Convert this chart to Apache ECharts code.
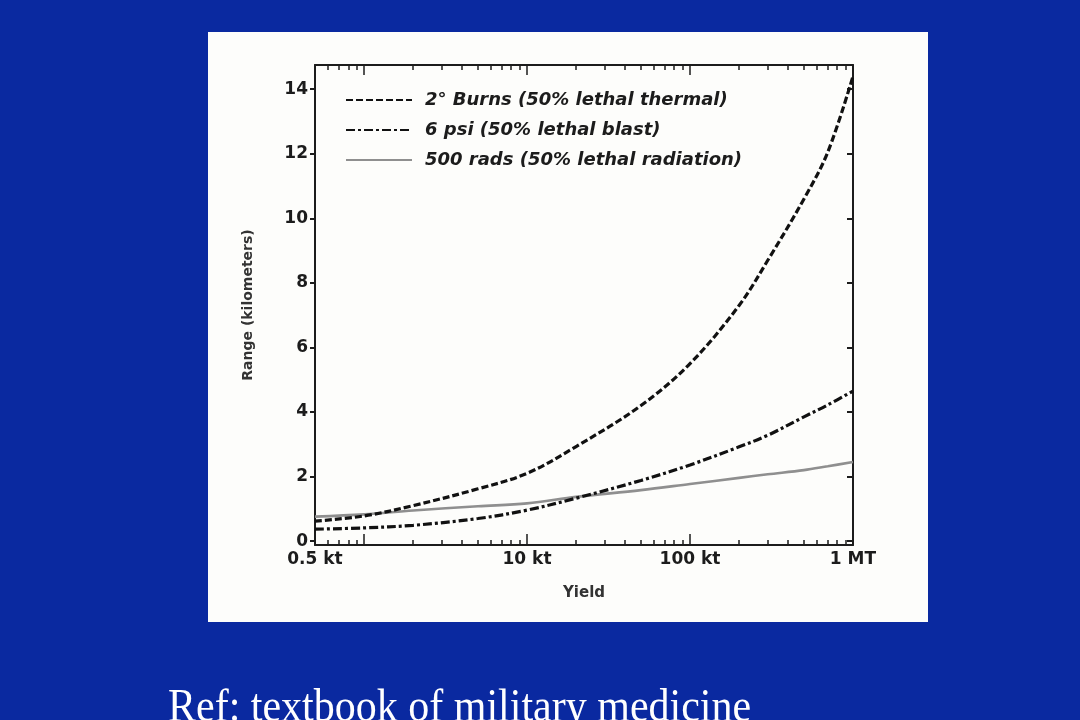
<!DOCTYPE html>
<html>
<head>
<meta charset="utf-8">
<script src="https://cdn.jsdelivr.net/npm/echarts@6/dist/echarts.min.js"></script>
<style>
html,body{margin:0;padding:0;background:#0a29a0;}
#chart{width:1080px;height:720px;}
</style>
</head>
<body>
<div id="chart"></div>
<script>
// Yield in kt (log axis)
const yields = [0.5, 1, 2, 5, 10, 20, 50, 100, 200, 300, 500, 700, 1000];
const burns = [0.62, 0.78, 1.1, 1.62, 2.1, 2.93, 4.2, 5.5, 7.3, 8.7, 10.6, 12.05, 14.4];
const blast = [0.37, 0.41, 0.49, 0.70, 0.96, 1.33, 1.88, 2.36, 2.92, 3.28, 3.85, 4.22, 4.65];
const rads  = [0.76, 0.83, 0.95, 1.08, 1.17, 1.37, 1.58, 1.77, 1.96, 2.07, 2.2, 2.32, 2.45];
const seriesNames = ['2° Burns (50% lethal thermal)', '6 psi (50% lethal blast)', '500 rads (50% lethal radiation)'];
const xLabelValues = [0.5, 10, 100, 1000];
const xLabelText = ['0.5 kt', '10 kt', '100 kt', '1 MT'];
const xMajorTicks = [1, 10, 100];
const xMinorTicks = [0.6, 0.7, 0.8, 0.9, 2, 3, 4, 5, 6, 7, 8, 9, 20, 30, 40, 50, 60, 70, 80, 90, 200, 300, 400, 500, 600, 700, 800, 900];
const yTicks = [0, 2, 4, 6, 8, 10, 12, 14];

const pairs = arr => yields.map((x, i) => [x, arr[i]]);
function xFmt(v) {
  let best = 0, bd = Infinity;
  xLabelValues.forEach((lv, i) => { const d = Math.abs(Math.log10(v) - Math.log10(lv)); if (d < bd) { bd = d; best = i; } });
  return bd < 0.05 ? xLabelText[best] : '';
}
const ink = '#1c1c1c';
const font = '"DejaVu Sans", Verdana, sans-serif';
const grid = {left: 315, right: 227, top: 65, bottom: 175};

const chart = echarts.init(document.getElementById('chart'), null, {renderer: 'canvas'});
const baseX = {type: 'log', logBase: 10, min: 0.5, max: 1000, splitLine: {show: false}, gridIndex: 0};
chart.setOption({
  backgroundColor: '#0a29a0',
  animation: false,
  graphic: [
    {type: 'rect', shape: {x: 208, y: 32, width: 720, height: 590}, style: {fill: '#fdfdfb'}, z: -10},
    {type: 'text', x: 168, y: 685, scaleY: 1.12, style: {text: 'Ref: textbook of military medicine', fill: '#ffffff', font: '42px "Liberation Serif", "Times New Roman", serif', verticalAlign: 'top'}}
  ],
  grid: grid,
  legend: {
    orient: 'vertical', left: 340, top: 86, itemWidth: 66, itemHeight: 14, itemGap: 12,
    data: seriesNames,
    itemStyle: {opacity: 0},
    textStyle: {fontFamily: font, fontSize: 18, fontStyle: 'italic', fontWeight: 'bold', color: ink, padding: [0, 0, 0, 8]}
  },
  xAxis: [
    Object.assign({}, baseX, {
      position: 'bottom', name: 'Yield', nameLocation: 'middle', nameGap: 41,
      nameTextStyle: {fontFamily: font, fontSize: 15, fontWeight: 'bold', color: '#333'},
      axisLine: {show: true, onZero: false, lineStyle: {color: ink, width: 2}},
      axisTick: {show: true, inside: true, length: 11, customValues: xMajorTicks, lineStyle: {color: ink, width: 1.5}},
      axisLabel: {show: true, customValues: xLabelValues, formatter: xFmt, margin: 6, fontFamily: font, fontSize: 17, fontWeight: 'bold', color: ink, showMinLabel: true, showMaxLabel: true}
    }),
    Object.assign({}, baseX, {
      position: 'bottom',
      axisLine: {show: false, onZero: false},
      axisTick: {show: true, inside: true, length: 5, customValues: xMinorTicks, lineStyle: {color: ink, width: 1.5}},
      axisLabel: {show: false}
    }),
    Object.assign({}, baseX, {
      position: 'top',
      axisLine: {show: true, onZero: false, lineStyle: {color: ink, width: 2}},
      axisTick: {show: true, inside: true, length: 10, customValues: xMajorTicks, lineStyle: {color: ink, width: 1.5}},
      axisLabel: {show: false}
    }),
    Object.assign({}, baseX, {
      position: 'top',
      axisLine: {show: false, onZero: false},
      axisTick: {show: true, inside: true, length: 5, customValues: xMinorTicks, lineStyle: {color: ink, width: 1.5}},
      axisLabel: {show: false}
    })
  ],
  yAxis: [
    {
      type: 'value', min: -0.12, max: 14.75, position: 'left', gridIndex: 0,
      name: 'Range (kilometers)', nameLocation: 'middle', nameGap: 60,
      nameTextStyle: {fontFamily: font, fontSize: 14, fontWeight: 'bold', color: '#333'},
      splitLine: {show: false},
      axisLine: {show: true, onZero: false, lineStyle: {color: ink, width: 2}},
      axisTick: {show: true, inside: false, length: 5, customValues: yTicks, lineStyle: {color: ink, width: 2}},
      axisLabel: {show: true, customValues: yTicks, margin: 7, fontFamily: font, fontSize: 17, fontWeight: 'bold', color: ink}
    },
    {
      type: 'value', min: -0.12, max: 14.75, position: 'right', gridIndex: 0,
      splitLine: {show: false},
      axisLine: {show: true, onZero: false, lineStyle: {color: ink, width: 2}},
      axisTick: {show: true, inside: true, length: 6, customValues: yTicks, lineStyle: {color: ink, width: 2}},
      axisLabel: {show: false}
    }
  ],
  series: [
    {name: seriesNames[0], type: 'line', data: pairs(burns), smooth: 0.35, symbol: 'none', z: 5,
     lineStyle: {color: '#111', width: 3.2, type: [7, 3]}, itemStyle: {color: '#111'}},
    {name: seriesNames[1], type: 'line', data: pairs(blast), smooth: 0.35, symbol: 'none', z: 4,
     lineStyle: {color: '#111', width: 3.2, type: [9, 3, 3, 3]}, itemStyle: {color: '#111'}},
    {name: seriesNames[2], type: 'line', data: pairs(rads), smooth: 0.35, symbol: 'none', z: 3,
     lineStyle: {color: '#8f8f8f', width: 2.6}, itemStyle: {color: '#8f8f8f'}}
  ]
});
</script>
</body>
</html>
